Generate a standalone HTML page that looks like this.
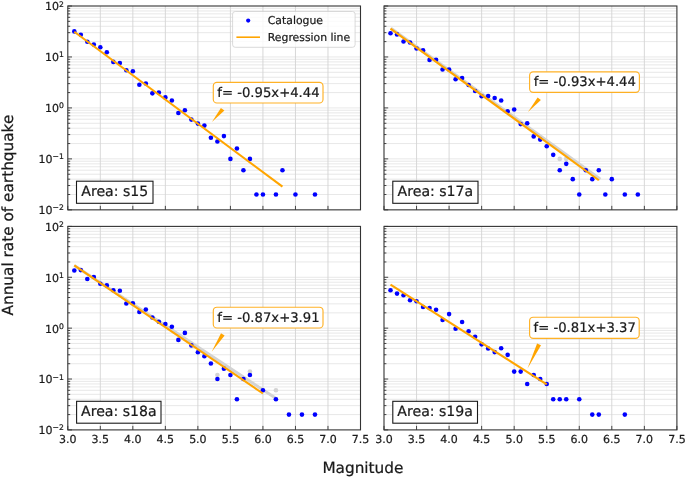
<!DOCTYPE html>
<html lang="en">
<head>
<meta charset="utf-8">
<title>Annual rate of earthquake vs Magnitude</title>
<style>
html,body{margin:0;padding:0;background:#ffffff;}
body{width:685px;height:477px;overflow:hidden;font-family:"DejaVu Sans", "Liberation Sans", sans-serif;}
svg{display:block;will-change:transform;}
svg text{text-rendering:geometricPrecision;stroke:#1a1a1a;stroke-width:0.22px;}
</style>
</head>
<body>
<svg width="685" height="477" viewBox="0 0 685 477" font-family='"DejaVu Sans", "Liberation Sans", sans-serif'>
<rect x="0" y="0" width="685" height="477" fill="#ffffff"/>
<g>
<path d="M67.8 194.51H360.5M67.8 185.53H360.5M67.8 179.17H360.5M67.8 174.23H360.5M67.8 170.19H360.5M67.8 166.78H360.5M67.8 163.83H360.5M67.8 161.22H360.5M67.8 158.89H360.5M67.8 143.55H360.5M67.8 134.57H360.5M67.8 128.21H360.5M67.8 123.27H360.5M67.8 119.23H360.5M67.8 115.82H360.5M67.8 112.86H360.5M67.8 110.26H360.5M67.8 107.92H360.5M67.8 92.58H360.5M67.8 83.61H360.5M67.8 77.24H360.5M67.8 72.3H360.5M67.8 68.27H360.5M67.8 64.86H360.5M67.8 61.9H360.5M67.8 59.29H360.5M67.8 56.96H360.5M67.8 41.62H360.5M67.8 32.65H360.5M67.8 26.28H360.5M67.8 21.34H360.5M67.8 17.31H360.5M67.8 13.89H360.5M67.8 10.94H360.5M67.8 8.33H360.5" stroke="#e5e5e5" stroke-width="0.9" fill="none"/>
<path d="M100.32 6V209.85M132.84 6V209.85M165.37 6V209.85M197.89 6V209.85M230.41 6V209.85M262.93 6V209.85M295.46 6V209.85M327.98 6V209.85" stroke="#d4d4d4" stroke-width="0.9" fill="none"/>
<circle cx="74.3" cy="31.4" r="2.3" fill="#0000ff"/>
<circle cx="80.81" cy="34.75" r="2.3" fill="#0000ff"/>
<circle cx="87.31" cy="41.8" r="2.3" fill="#0000ff"/>
<circle cx="93.82" cy="44.6" r="2.3" fill="#0000ff"/>
<circle cx="100.32" cy="47.2" r="2.3" fill="#0000ff"/>
<circle cx="106.83" cy="52.2" r="2.3" fill="#0000ff"/>
<circle cx="113.33" cy="61.9" r="2.3" fill="#0000ff"/>
<circle cx="119.84" cy="63.1" r="2.3" fill="#0000ff"/>
<circle cx="126.34" cy="70.3" r="2.3" fill="#0000ff"/>
<circle cx="132.84" cy="71.3" r="2.3" fill="#0000ff"/>
<circle cx="139.35" cy="84.7" r="2.3" fill="#0000ff"/>
<circle cx="145.85" cy="83.5" r="2.3" fill="#0000ff"/>
<circle cx="152.36" cy="93.35" r="2.3" fill="#0000ff"/>
<circle cx="158.86" cy="92.6" r="2.3" fill="#0000ff"/>
<circle cx="165.37" cy="97.4" r="2.3" fill="#0000ff"/>
<circle cx="171.87" cy="100.5" r="2.3" fill="#0000ff"/>
<circle cx="178.38" cy="113" r="2.3" fill="#0000ff"/>
<circle cx="184.88" cy="110.2" r="2.3" fill="#0000ff"/>
<circle cx="191.38" cy="119.6" r="2.3" fill="#0000ff"/>
<circle cx="197.89" cy="123.6" r="2.3" fill="#0000ff"/>
<circle cx="204.39" cy="125.6" r="2.3" fill="#0000ff"/>
<circle cx="210.9" cy="137.74" r="2.3" fill="#0000ff"/>
<circle cx="217.4" cy="141.44" r="2.3" fill="#0000ff"/>
<circle cx="223.91" cy="136.1" r="2.3" fill="#0000ff"/>
<circle cx="230.41" cy="158.89" r="2.3" fill="#0000ff"/>
<circle cx="236.92" cy="148.49" r="2.3" fill="#0000ff"/>
<circle cx="243.42" cy="170.19" r="2.3" fill="#0000ff"/>
<circle cx="249.92" cy="158.89" r="2.3" fill="#0000ff"/>
<circle cx="256.43" cy="194.51" r="2.3" fill="#0000ff"/>
<circle cx="262.93" cy="194.51" r="2.3" fill="#0000ff"/>
<circle cx="275.94" cy="194.51" r="2.3" fill="#0000ff"/>
<circle cx="282.45" cy="170.19" r="2.3" fill="#0000ff"/>
<circle cx="295.46" cy="194.51" r="2.3" fill="#0000ff"/>
<circle cx="314.97" cy="194.51" r="2.3" fill="#0000ff"/>
<line x1="74.3" y1="31.74" x2="282.45" y2="186.66" stroke="#ffa500" stroke-width="2.1"/>
<path d="M67.8 209.85v-4M100.32 209.85v-4M132.84 209.85v-4M165.37 209.85v-4M197.89 209.85v-4M230.41 209.85v-4M262.93 209.85v-4M295.46 209.85v-4M327.98 209.85v-4M360.5 209.85v-4M67.8 209.85h4.2M67.8 194.51h2.4M67.8 185.53h2.4M67.8 179.17h2.4M67.8 174.23h2.4M67.8 170.19h2.4M67.8 166.78h2.4M67.8 163.83h2.4M67.8 161.22h2.4M67.8 158.89h4.2M67.8 143.55h2.4M67.8 134.57h2.4M67.8 128.21h2.4M67.8 123.27h2.4M67.8 119.23h2.4M67.8 115.82h2.4M67.8 112.86h2.4M67.8 110.26h2.4M67.8 107.92h4.2M67.8 92.58h2.4M67.8 83.61h2.4M67.8 77.24h2.4M67.8 72.3h2.4M67.8 68.27h2.4M67.8 64.86h2.4M67.8 61.9h2.4M67.8 59.29h2.4M67.8 56.96h4.2M67.8 41.62h2.4M67.8 32.65h2.4M67.8 26.28h2.4M67.8 21.34h2.4M67.8 17.31h2.4M67.8 13.89h2.4M67.8 10.94h2.4M67.8 8.33h2.4M67.8 6h4.2" stroke="#333333" stroke-width="0.9" fill="none"/>
<rect x="67.8" y="6" width="292.7" height="203.85" fill="none" stroke="#333333" stroke-width="1.1"/>
<text x="63.9" y="214.25" font-size="11" text-anchor="end" fill="#1a1a1a">10<tspan font-size="7.7" dy="-3.9">−2</tspan></text>
<text x="63.9" y="163.29" font-size="11" text-anchor="end" fill="#1a1a1a">10<tspan font-size="7.7" dy="-3.9">−1</tspan></text>
<text x="63.9" y="112.33" font-size="11" text-anchor="end" fill="#1a1a1a">10<tspan font-size="7.7" dy="-3.9">0</tspan></text>
<text x="63.9" y="61.36" font-size="11" text-anchor="end" fill="#1a1a1a">10<tspan font-size="7.7" dy="-3.9">1</tspan></text>
<text x="63.9" y="10.4" font-size="11" text-anchor="end" fill="#1a1a1a">10<tspan font-size="7.7" dy="-3.9">2</tspan></text>
<polygon points="211.9,121.9 220.9,108 224.4,110.4" fill="#ffa500"/>
<rect x="213.3" y="82.3" width="109.7" height="20.7" rx="3.6" ry="3.6" fill="#ffffff" stroke="#ffa500" stroke-opacity="0.85" stroke-width="1.15"/>
<text x="268.45" y="96.6" font-size="13.2" text-anchor="middle" fill="#1a1a1a">f= -0.95x+4.44</text>
<rect x="76.5" y="181.2" width="76.5" height="22.1" fill="#ffffff" stroke="#1a1a1a" stroke-width="1.1"/>
<text x="114.75" y="195.8" font-size="14.1" text-anchor="middle" fill="#1a1a1a">Area: s15</text>
</g>
<g>
<path d="M384 194.51H676.9M384 185.53H676.9M384 179.17H676.9M384 174.23H676.9M384 170.19H676.9M384 166.78H676.9M384 163.83H676.9M384 161.22H676.9M384 158.89H676.9M384 143.55H676.9M384 134.57H676.9M384 128.21H676.9M384 123.27H676.9M384 119.23H676.9M384 115.82H676.9M384 112.86H676.9M384 110.26H676.9M384 107.92H676.9M384 92.58H676.9M384 83.61H676.9M384 77.24H676.9M384 72.3H676.9M384 68.27H676.9M384 64.86H676.9M384 61.9H676.9M384 59.29H676.9M384 56.96H676.9M384 41.62H676.9M384 32.65H676.9M384 26.28H676.9M384 21.34H676.9M384 17.31H676.9M384 13.89H676.9M384 10.94H676.9M384 8.33H676.9" stroke="#e5e5e5" stroke-width="0.9" fill="none"/>
<path d="M416.54 6V209.85M449.09 6V209.85M481.63 6V209.85M514.18 6V209.85M546.72 6V209.85M579.27 6V209.85M611.81 6V209.85M644.36 6V209.85" stroke="#d4d4d4" stroke-width="0.9" fill="none"/>
<line x1="390.9" y1="28.2" x2="600.4" y2="179.2" stroke="#d3d3d3" stroke-width="3" stroke-linecap="butt"/>
<circle cx="559.74" cy="158.89" r="2.3" fill="#d3d3d3"/>
<circle cx="566.25" cy="158.89" r="2.3" fill="#d3d3d3"/>
<circle cx="390.51" cy="33.2" r="2.3" fill="#0000ff"/>
<circle cx="397.02" cy="34.4" r="2.3" fill="#0000ff"/>
<circle cx="403.53" cy="41.5" r="2.3" fill="#0000ff"/>
<circle cx="410.04" cy="42.5" r="2.3" fill="#0000ff"/>
<circle cx="416.54" cy="48.5" r="2.3" fill="#0000ff"/>
<circle cx="423.05" cy="50.3" r="2.3" fill="#0000ff"/>
<circle cx="429.56" cy="59.9" r="2.3" fill="#0000ff"/>
<circle cx="436.07" cy="59.7" r="2.3" fill="#0000ff"/>
<circle cx="442.58" cy="69.5" r="2.3" fill="#0000ff"/>
<circle cx="449.09" cy="69.5" r="2.3" fill="#0000ff"/>
<circle cx="455.6" cy="79.2" r="2.3" fill="#0000ff"/>
<circle cx="462.11" cy="78" r="2.3" fill="#0000ff"/>
<circle cx="468.62" cy="85" r="2.3" fill="#0000ff"/>
<circle cx="475.12" cy="91" r="2.3" fill="#0000ff"/>
<circle cx="481.63" cy="96.2" r="2.3" fill="#0000ff"/>
<circle cx="488.14" cy="96.1" r="2.3" fill="#0000ff"/>
<circle cx="494.65" cy="98" r="2.3" fill="#0000ff"/>
<circle cx="501.16" cy="100.5" r="2.3" fill="#0000ff"/>
<circle cx="507.67" cy="111.2" r="2.3" fill="#0000ff"/>
<circle cx="514.18" cy="109.5" r="2.3" fill="#0000ff"/>
<circle cx="520.69" cy="124.1" r="2.3" fill="#0000ff"/>
<circle cx="527.2" cy="123.3" r="2.3" fill="#0000ff"/>
<circle cx="533.7" cy="136.4" r="2.3" fill="#0000ff"/>
<circle cx="540.21" cy="139.6" r="2.3" fill="#0000ff"/>
<circle cx="546.72" cy="146.2" r="2.3" fill="#0000ff"/>
<circle cx="553.23" cy="154.85" r="2.3" fill="#0000ff"/>
<circle cx="559.74" cy="170.19" r="2.3" fill="#0000ff"/>
<circle cx="566.25" cy="163.83" r="2.3" fill="#0000ff"/>
<circle cx="572.76" cy="179.17" r="2.3" fill="#0000ff"/>
<circle cx="579.27" cy="194.51" r="2.3" fill="#0000ff"/>
<circle cx="585.78" cy="170.19" r="2.3" fill="#0000ff"/>
<circle cx="592.28" cy="179.17" r="2.3" fill="#0000ff"/>
<circle cx="598.79" cy="170.19" r="2.3" fill="#0000ff"/>
<circle cx="605.3" cy="194.51" r="2.3" fill="#0000ff"/>
<circle cx="611.81" cy="179.17" r="2.3" fill="#0000ff"/>
<circle cx="624.83" cy="194.51" r="2.3" fill="#0000ff"/>
<circle cx="637.85" cy="194.51" r="2.3" fill="#0000ff"/>
<line x1="390.51" y1="28.58" x2="598.79" y2="180.24" stroke="#ffa500" stroke-width="2.1"/>
<path d="M384 209.85v-4M416.54 209.85v-4M449.09 209.85v-4M481.63 209.85v-4M514.18 209.85v-4M546.72 209.85v-4M579.27 209.85v-4M611.81 209.85v-4M644.36 209.85v-4M676.9 209.85v-4M384 209.85h4.2M384 194.51h2.4M384 185.53h2.4M384 179.17h2.4M384 174.23h2.4M384 170.19h2.4M384 166.78h2.4M384 163.83h2.4M384 161.22h2.4M384 158.89h4.2M384 143.55h2.4M384 134.57h2.4M384 128.21h2.4M384 123.27h2.4M384 119.23h2.4M384 115.82h2.4M384 112.86h2.4M384 110.26h2.4M384 107.92h4.2M384 92.58h2.4M384 83.61h2.4M384 77.24h2.4M384 72.3h2.4M384 68.27h2.4M384 64.86h2.4M384 61.9h2.4M384 59.29h2.4M384 56.96h4.2M384 41.62h2.4M384 32.65h2.4M384 26.28h2.4M384 21.34h2.4M384 17.31h2.4M384 13.89h2.4M384 10.94h2.4M384 8.33h2.4M384 6h4.2" stroke="#333333" stroke-width="0.9" fill="none"/>
<rect x="384" y="6" width="292.9" height="203.85" fill="none" stroke="#333333" stroke-width="1.1"/>
<polygon points="528,111.9 537.6,97.5 540.9,99.9" fill="#ffa500"/>
<rect x="529.6" y="71.8" width="109.8" height="20.5" rx="3.6" ry="3.6" fill="#ffffff" stroke="#ffa500" stroke-opacity="0.85" stroke-width="1.15"/>
<text x="584.8" y="86.1" font-size="13.2" text-anchor="middle" fill="#1a1a1a">f= -0.93x+4.44</text>
<rect x="392.8" y="181.2" width="85.2" height="22.1" fill="#ffffff" stroke="#1a1a1a" stroke-width="1.1"/>
<text x="435.4" y="195.8" font-size="14.1" text-anchor="middle" fill="#1a1a1a">Area: s17a</text>
</g>
<g>
<path d="M67.8 414.59H360.5M67.8 405.63H360.5M67.8 399.27H360.5M67.8 394.34H360.5M67.8 390.31H360.5M67.8 386.91H360.5M67.8 383.96H360.5M67.8 381.35H360.5M67.8 379.02H360.5M67.8 363.71H360.5M67.8 354.75H360.5M67.8 348.4H360.5M67.8 343.46H360.5M67.8 339.44H360.5M67.8 336.03H360.5M67.8 333.08H360.5M67.8 330.48H360.5M67.8 328.15H360.5M67.8 312.84H360.5M67.8 303.88H360.5M67.8 297.52H360.5M67.8 292.59H360.5M67.8 288.56H360.5M67.8 285.16H360.5M67.8 282.21H360.5M67.8 279.6H360.5M67.8 277.27H360.5M67.8 261.96H360.5M67.8 253H360.5M67.8 246.65H360.5M67.8 241.71H360.5M67.8 237.69H360.5M67.8 234.28H360.5M67.8 231.33H360.5M67.8 228.73H360.5" stroke="#e5e5e5" stroke-width="0.9" fill="none"/>
<path d="M100.32 226.4V429.9M132.84 226.4V429.9M165.37 226.4V429.9M197.89 226.4V429.9M230.41 226.4V429.9M262.93 226.4V429.9M295.46 226.4V429.9M327.98 226.4V429.9" stroke="#d4d4d4" stroke-width="0.9" fill="none"/>
<line x1="74.3" y1="265.6" x2="276.2" y2="398.6" stroke="#d3d3d3" stroke-width="3" stroke-linecap="butt"/>
<circle cx="217.4" cy="375" r="2.3" fill="#d3d3d3"/>
<circle cx="249.92" cy="371.59" r="2.3" fill="#d3d3d3"/>
<circle cx="275.94" cy="390.31" r="2.3" fill="#d3d3d3"/>
<circle cx="74.3" cy="270.5" r="2.3" fill="#0000ff"/>
<circle cx="80.81" cy="270.1" r="2.3" fill="#0000ff"/>
<circle cx="87.31" cy="279" r="2.3" fill="#0000ff"/>
<circle cx="93.82" cy="277" r="2.3" fill="#0000ff"/>
<circle cx="100.32" cy="283.7" r="2.3" fill="#0000ff"/>
<circle cx="106.83" cy="285.4" r="2.3" fill="#0000ff"/>
<circle cx="113.33" cy="290.2" r="2.3" fill="#0000ff"/>
<circle cx="119.84" cy="290.7" r="2.3" fill="#0000ff"/>
<circle cx="126.34" cy="303.5" r="2.3" fill="#0000ff"/>
<circle cx="132.84" cy="303.3" r="2.3" fill="#0000ff"/>
<circle cx="139.35" cy="312" r="2.3" fill="#0000ff"/>
<circle cx="145.85" cy="309.5" r="2.3" fill="#0000ff"/>
<circle cx="152.36" cy="317.5" r="2.3" fill="#0000ff"/>
<circle cx="158.86" cy="321.8" r="2.3" fill="#0000ff"/>
<circle cx="165.37" cy="324" r="2.3" fill="#0000ff"/>
<circle cx="171.87" cy="326.8" r="2.3" fill="#0000ff"/>
<circle cx="178.38" cy="339.9" r="2.3" fill="#0000ff"/>
<circle cx="184.88" cy="332.9" r="2.3" fill="#0000ff"/>
<circle cx="191.38" cy="345.4" r="2.3" fill="#0000ff"/>
<circle cx="197.89" cy="352.3" r="2.3" fill="#0000ff"/>
<circle cx="204.39" cy="356.3" r="2.3" fill="#0000ff"/>
<circle cx="210.9" cy="363.45" r="2.3" fill="#0000ff"/>
<circle cx="217.4" cy="379.02" r="2.3" fill="#0000ff"/>
<circle cx="223.91" cy="368.64" r="2.3" fill="#0000ff"/>
<circle cx="230.41" cy="375" r="2.3" fill="#0000ff"/>
<circle cx="236.92" cy="399.27" r="2.3" fill="#0000ff"/>
<circle cx="243.42" cy="379.02" r="2.3" fill="#0000ff"/>
<circle cx="249.92" cy="375" r="2.3" fill="#0000ff"/>
<circle cx="262.93" cy="390.31" r="2.3" fill="#0000ff"/>
<circle cx="275.94" cy="399.27" r="2.3" fill="#0000ff"/>
<circle cx="288.95" cy="414.59" r="2.3" fill="#0000ff"/>
<circle cx="301.96" cy="414.59" r="2.3" fill="#0000ff"/>
<circle cx="314.97" cy="414.59" r="2.3" fill="#0000ff"/>
<line x1="74.3" y1="265.44" x2="262.93" y2="393.5" stroke="#ffa500" stroke-width="2.1"/>
<path d="M67.8 429.9v-4M100.32 429.9v-4M132.84 429.9v-4M165.37 429.9v-4M197.89 429.9v-4M230.41 429.9v-4M262.93 429.9v-4M295.46 429.9v-4M327.98 429.9v-4M360.5 429.9v-4M67.8 429.9h4.2M67.8 414.59h2.4M67.8 405.63h2.4M67.8 399.27h2.4M67.8 394.34h2.4M67.8 390.31h2.4M67.8 386.91h2.4M67.8 383.96h2.4M67.8 381.35h2.4M67.8 379.02h4.2M67.8 363.71h2.4M67.8 354.75h2.4M67.8 348.4h2.4M67.8 343.46h2.4M67.8 339.44h2.4M67.8 336.03h2.4M67.8 333.08h2.4M67.8 330.48h2.4M67.8 328.15h4.2M67.8 312.84h2.4M67.8 303.88h2.4M67.8 297.52h2.4M67.8 292.59h2.4M67.8 288.56h2.4M67.8 285.16h2.4M67.8 282.21h2.4M67.8 279.6h2.4M67.8 277.27h4.2M67.8 261.96h2.4M67.8 253h2.4M67.8 246.65h2.4M67.8 241.71h2.4M67.8 237.69h2.4M67.8 234.28h2.4M67.8 231.33h2.4M67.8 228.73h2.4M67.8 226.4h4.2" stroke="#333333" stroke-width="0.9" fill="none"/>
<rect x="67.8" y="226.4" width="292.7" height="203.5" fill="none" stroke="#333333" stroke-width="1.1"/>
<text x="67.8" y="442.5" font-size="11" text-anchor="middle" fill="#1a1a1a">3.0</text>
<text x="100.32" y="442.5" font-size="11" text-anchor="middle" fill="#1a1a1a">3.5</text>
<text x="132.84" y="442.5" font-size="11" text-anchor="middle" fill="#1a1a1a">4.0</text>
<text x="165.37" y="442.5" font-size="11" text-anchor="middle" fill="#1a1a1a">4.5</text>
<text x="197.89" y="442.5" font-size="11" text-anchor="middle" fill="#1a1a1a">5.0</text>
<text x="230.41" y="442.5" font-size="11" text-anchor="middle" fill="#1a1a1a">5.5</text>
<text x="262.93" y="442.5" font-size="11" text-anchor="middle" fill="#1a1a1a">6.0</text>
<text x="295.46" y="442.5" font-size="11" text-anchor="middle" fill="#1a1a1a">6.5</text>
<text x="327.98" y="442.5" font-size="11" text-anchor="middle" fill="#1a1a1a">7.0</text>
<text x="360.5" y="442.5" font-size="11" text-anchor="middle" fill="#1a1a1a">7.5</text>
<text x="63.9" y="434.3" font-size="11" text-anchor="end" fill="#1a1a1a">10<tspan font-size="7.7" dy="-3.9">−2</tspan></text>
<text x="63.9" y="383.42" font-size="11" text-anchor="end" fill="#1a1a1a">10<tspan font-size="7.7" dy="-3.9">−1</tspan></text>
<text x="63.9" y="332.55" font-size="11" text-anchor="end" fill="#1a1a1a">10<tspan font-size="7.7" dy="-3.9">0</tspan></text>
<text x="63.9" y="281.67" font-size="11" text-anchor="end" fill="#1a1a1a">10<tspan font-size="7.7" dy="-3.9">1</tspan></text>
<text x="63.9" y="230.8" font-size="11" text-anchor="end" fill="#1a1a1a">10<tspan font-size="7.7" dy="-3.9">2</tspan></text>
<polygon points="211.7,351.7 221,333.2 224.6,335.4" fill="#ffa500"/>
<rect x="213.3" y="307.2" width="109.7" height="20.8" rx="3.6" ry="3.6" fill="#ffffff" stroke="#ffa500" stroke-opacity="0.85" stroke-width="1.15"/>
<text x="268.45" y="321.5" font-size="13.2" text-anchor="middle" fill="#1a1a1a">f= -0.87x+3.91</text>
<rect x="76.6" y="401.3" width="84.4" height="21.9" fill="#ffffff" stroke="#1a1a1a" stroke-width="1.1"/>
<text x="118.8" y="415.9" font-size="14.1" text-anchor="middle" fill="#1a1a1a">Area: s18a</text>
</g>
<g>
<path d="M384 414.59H676.9M384 405.63H676.9M384 399.27H676.9M384 394.34H676.9M384 390.31H676.9M384 386.91H676.9M384 383.96H676.9M384 381.35H676.9M384 379.02H676.9M384 363.71H676.9M384 354.75H676.9M384 348.4H676.9M384 343.46H676.9M384 339.44H676.9M384 336.03H676.9M384 333.08H676.9M384 330.48H676.9M384 328.15H676.9M384 312.84H676.9M384 303.88H676.9M384 297.52H676.9M384 292.59H676.9M384 288.56H676.9M384 285.16H676.9M384 282.21H676.9M384 279.6H676.9M384 277.27H676.9M384 261.96H676.9M384 253H676.9M384 246.65H676.9M384 241.71H676.9M384 237.69H676.9M384 234.28H676.9M384 231.33H676.9M384 228.73H676.9" stroke="#e5e5e5" stroke-width="0.9" fill="none"/>
<path d="M416.54 226.4V429.9M449.09 226.4V429.9M481.63 226.4V429.9M514.18 226.4V429.9M546.72 226.4V429.9M579.27 226.4V429.9M611.81 226.4V429.9M644.36 226.4V429.9" stroke="#d4d4d4" stroke-width="0.9" fill="none"/>
<circle cx="390.51" cy="290.3" r="2.3" fill="#0000ff"/>
<circle cx="397.02" cy="293.6" r="2.3" fill="#0000ff"/>
<circle cx="403.53" cy="295.3" r="2.3" fill="#0000ff"/>
<circle cx="410.04" cy="300.3" r="2.3" fill="#0000ff"/>
<circle cx="416.54" cy="301.2" r="2.3" fill="#0000ff"/>
<circle cx="423.05" cy="307" r="2.3" fill="#0000ff"/>
<circle cx="429.56" cy="308.1" r="2.3" fill="#0000ff"/>
<circle cx="436.07" cy="309.7" r="2.3" fill="#0000ff"/>
<circle cx="442.58" cy="320" r="2.3" fill="#0000ff"/>
<circle cx="449.09" cy="314.1" r="2.3" fill="#0000ff"/>
<circle cx="455.6" cy="328.7" r="2.3" fill="#0000ff"/>
<circle cx="462.11" cy="322" r="2.3" fill="#0000ff"/>
<circle cx="468.62" cy="331.3" r="2.3" fill="#0000ff"/>
<circle cx="475.12" cy="336.7" r="2.3" fill="#0000ff"/>
<circle cx="481.63" cy="344.35" r="2.3" fill="#0000ff"/>
<circle cx="488.14" cy="348.45" r="2.3" fill="#0000ff"/>
<circle cx="494.65" cy="352.1" r="2.3" fill="#0000ff"/>
<circle cx="501.16" cy="348.25" r="2.3" fill="#0000ff"/>
<circle cx="507.67" cy="354.85" r="2.3" fill="#0000ff"/>
<circle cx="514.18" cy="371.59" r="2.3" fill="#0000ff"/>
<circle cx="520.69" cy="371.59" r="2.3" fill="#0000ff"/>
<circle cx="527.2" cy="383.96" r="2.3" fill="#0000ff"/>
<circle cx="533.7" cy="375" r="2.3" fill="#0000ff"/>
<circle cx="540.21" cy="379.02" r="2.3" fill="#0000ff"/>
<circle cx="546.72" cy="383.96" r="2.3" fill="#0000ff"/>
<circle cx="553.23" cy="399.27" r="2.3" fill="#0000ff"/>
<circle cx="559.74" cy="399.27" r="2.3" fill="#0000ff"/>
<circle cx="566.25" cy="399.27" r="2.3" fill="#0000ff"/>
<circle cx="579.27" cy="399.27" r="2.3" fill="#0000ff"/>
<circle cx="592.28" cy="414.59" r="2.3" fill="#0000ff"/>
<circle cx="598.79" cy="414.59" r="2.3" fill="#0000ff"/>
<circle cx="624.83" cy="414.59" r="2.3" fill="#0000ff"/>
<line x1="390.51" y1="284.65" x2="546.72" y2="384.35" stroke="#ffa500" stroke-width="2.1"/>
<path d="M384 429.9v-4M416.54 429.9v-4M449.09 429.9v-4M481.63 429.9v-4M514.18 429.9v-4M546.72 429.9v-4M579.27 429.9v-4M611.81 429.9v-4M644.36 429.9v-4M676.9 429.9v-4M384 429.9h4.2M384 414.59h2.4M384 405.63h2.4M384 399.27h2.4M384 394.34h2.4M384 390.31h2.4M384 386.91h2.4M384 383.96h2.4M384 381.35h2.4M384 379.02h4.2M384 363.71h2.4M384 354.75h2.4M384 348.4h2.4M384 343.46h2.4M384 339.44h2.4M384 336.03h2.4M384 333.08h2.4M384 330.48h2.4M384 328.15h4.2M384 312.84h2.4M384 303.88h2.4M384 297.52h2.4M384 292.59h2.4M384 288.56h2.4M384 285.16h2.4M384 282.21h2.4M384 279.6h2.4M384 277.27h4.2M384 261.96h2.4M384 253h2.4M384 246.65h2.4M384 241.71h2.4M384 237.69h2.4M384 234.28h2.4M384 231.33h2.4M384 228.73h2.4M384 226.4h4.2" stroke="#333333" stroke-width="0.9" fill="none"/>
<rect x="384" y="226.4" width="292.9" height="203.5" fill="none" stroke="#333333" stroke-width="1.1"/>
<text x="384" y="442.5" font-size="11" text-anchor="middle" fill="#1a1a1a">3.0</text>
<text x="416.54" y="442.5" font-size="11" text-anchor="middle" fill="#1a1a1a">3.5</text>
<text x="449.09" y="442.5" font-size="11" text-anchor="middle" fill="#1a1a1a">4.0</text>
<text x="481.63" y="442.5" font-size="11" text-anchor="middle" fill="#1a1a1a">4.5</text>
<text x="514.18" y="442.5" font-size="11" text-anchor="middle" fill="#1a1a1a">5.0</text>
<text x="546.72" y="442.5" font-size="11" text-anchor="middle" fill="#1a1a1a">5.5</text>
<text x="579.27" y="442.5" font-size="11" text-anchor="middle" fill="#1a1a1a">6.0</text>
<text x="611.81" y="442.5" font-size="11" text-anchor="middle" fill="#1a1a1a">6.5</text>
<text x="644.36" y="442.5" font-size="11" text-anchor="middle" fill="#1a1a1a">7.0</text>
<text x="676.9" y="442.5" font-size="11" text-anchor="middle" fill="#1a1a1a">7.5</text>
<polygon points="527.5,368.4 537.1,343.4 541,345.2" fill="#ffa500"/>
<rect x="529.6" y="317.2" width="109.6" height="21.1" rx="3.6" ry="3.6" fill="#ffffff" stroke="#ffa500" stroke-opacity="0.85" stroke-width="1.15"/>
<text x="584.7" y="331.5" font-size="13.2" text-anchor="middle" fill="#1a1a1a">f= -0.81x+3.37</text>
<rect x="392.8" y="401.3" width="84.7" height="21.9" fill="#ffffff" stroke="#1a1a1a" stroke-width="1.1"/>
<text x="435.15" y="415.9" font-size="14.1" text-anchor="middle" fill="#1a1a1a">Area: s19a</text>
</g>
<g>
<rect x="232.6" y="11.5" width="122.5" height="35.8" rx="2.6" ry="2.6" fill="#ffffff" fill-opacity="0.8" stroke="#cccccc" stroke-opacity="0.8" stroke-width="0.9"/>
<circle cx="248.2" cy="20.6" r="2.1" fill="#0000ff"/>
<line x1="236.4" y1="37.2" x2="260" y2="37.2" stroke="#ffa500" stroke-width="1.6"/>
<text x="267.8" y="24.4" font-size="10.85" fill="#1a1a1a">Catalogue</text>
<text x="267.8" y="40.8" font-size="10.85" fill="#1a1a1a">Regression line</text>
</g>
<text x="362.9" y="473.2" font-size="15.3" text-anchor="middle" fill="#1a1a1a">Magnitude</text>
<text transform="translate(13.2 215.1) rotate(-90)" font-size="15.3" text-anchor="middle" fill="#1a1a1a">Annual rate of earthquake</text>
</svg>
</body>
</html>
